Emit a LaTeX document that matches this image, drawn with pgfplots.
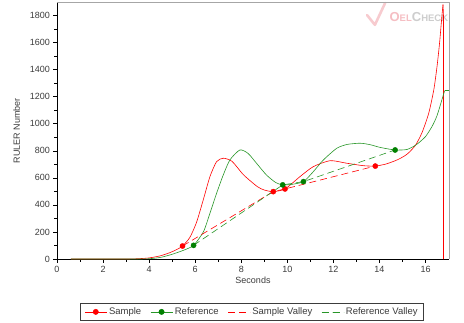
\documentclass[border=0pt]{standalone}
\usepackage{pgfplots}
\pgfplotsset{compat=1.18}
\usepackage{fontspec}
\setmainfont{Liberation Sans}

\definecolor{smpred}{RGB}{255,0,0}
\definecolor{refgreen}{RGB}{0,128,0}
\definecolor{reflinegreen}{RGB}{40,150,40}
\definecolor{txtgray}{RGB}{60,60,60}
\definecolor{wmpink}{RGB}{245,190,195}
\definecolor{wmgray}{RGB}{205,205,205}

\begin{document}
\begin{tikzpicture}
\useasboundingbox (-57pt,-63pt) rectangle (407pt,259pt);
\begin{axis}[
  at={(0pt,0pt)}, anchor=south west,
  scale only axis,
  width=392pt, height=257pt,
  xmin=0, xmax=17.02, ymin=0, ymax=1900,
  axis lines*=left,
  axis line style={-, black, line width=0.5pt},
  xtick={0,2,...,16}, ytick={0,200,...,1800},
  minor x tick num=1, minor y tick num=1,
  tick align=outside,
  major tick length=3.5pt, minor tick length=2.5pt,
  tick style={black, line width=0.5pt},
  /pgf/number format/assume math mode=true,
  /pgf/number format/1000 sep={},
  ticklabel style={font=\fontsize{9}{10}\selectfont, text=txtgray},
  xlabel={Seconds}, ylabel={RULER Number},
  label style={font=\fontsize{9}{10}\selectfont, text=txtgray},
  xlabel style={yshift=2pt},
  ylabel style={yshift=3pt},
  legend columns=4,
  legend style={at={(axis description cs:0.4975,-0.171)}, anchor=north,
    font=\fontsize{9.5}{11}\selectfont, text=txtgray, draw=txtgray,
    line width=0.5pt, inner xsep=4pt, inner ysep=2.5pt,
    /tikz/every even column/.append style={column sep=7pt}},
  legend image code/.code={%
    \draw[mark repeat=2, mark phase=2, #1]
      plot coordinates {(0pt,0pt) (11pt,0pt) (22pt,0pt)};},
  clip=false,
  after end axis/.code={
    \draw[gray!70, line width=0.5pt] (rel axis cs:0,1) -- (rel axis cs:1,1) -- (rel axis cs:1,0);
  },
]

% faint company logo in the upper right corner
\draw[wmpink, line width=2.6pt, line cap=round, line join=round, opacity=0.8]
  (rel axis cs:0.791,0.949) -- (rel axis cs:0.811,0.911) -- (rel axis cs:0.837,0.996);
\node[anchor=base west, inner sep=0pt, font=\bfseries] at (rel axis cs:0.848,0.925)
  {\textcolor{wmpink}{\fontsize{13}{13}\selectfont O\fontsize{9.5}{10}\selectfont EL}%
   \textcolor{wmgray}{\fontsize{13}{13}\selectfont C\fontsize{9.5}{10}\selectfont HECK}};

% legend entries
\addlegendimage{smpred, line width=0.6pt, mark=*, mark size=2.6pt, mark options={fill=smpred}}
\addlegendentry{Sample}
\addlegendimage{reflinegreen, line width=0.6pt, mark=*, mark size=2.6pt, mark options={draw=refgreen, fill=refgreen}}
\addlegendentry{Reference}
\addlegendimage{smpred, line width=0.6pt, dash pattern=on 7pt off 4pt}
\addlegendentry{Sample Valley}
\addlegendimage{reflinegreen, line width=0.6pt, dash pattern=on 7pt off 4pt}
\addlegendentry{Reference Valley}

% sample curve
\addplot[smpred, line width=0.6pt, smooth, tension=0.4, forget plot] coordinates {
 (0.6,0) (1,0) (2,0) (3,0) (3.5,2) (4,8) (4.5,24) (4.9,47) (5.2,70) (5.45,96)
 (5.77,160) (6.06,272) (6.35,437) (6.64,609) (6.93,720) (7.22,745) (7.6,722)
 (8.1,622) (8.7,535) (9.0,510) (9.39,498) (9.9,518) (10.55,609) (11.13,683)
 (11.86,727) (12.58,708) (13.3,690) (13.82,687) (14.3,703) (14.8,735)
 (15.2,775) (15.56,840) (15.85,935) (16.14,1078) (16.36,1251) (16.5,1423)
 (16.61,1596) (16.71,1793) (16.76,1880)
};
\addplot[smpred, line width=0.6pt, forget plot] coordinates {(16.76,1880) (16.78,1800) (16.78,0)};

% reference curve
\addplot[reflinegreen, line width=0.6pt, smooth, tension=0.4, forget plot] coordinates {
 (0.6,0) (2,0) (3.5,0) (4.0,2) (4.5,12) (5.0,35) (5.5,65) (5.93,101)
 (6.36,202) (6.64,338) (6.93,486) (7.22,622) (7.51,733) (7.94,806) (8.3,780)
 (8.7,700) (9.1,620) (9.5,565) (9.8,548) (10.2,552) (10.7,572) (11.13,646)
 (11.57,733) (12.15,819) (12.6,847) (13.16,856) (13.6,845) (14.03,825)
 (14.68,806) (15.2,810) (15.6,845) (16.0,905) (16.3,985) (16.5,1060)
 (16.7,1170) (16.83,1245)
};
\addplot[reflinegreen, line width=0.6pt, forget plot] coordinates {(16.83,1245) (17.02,1245)};

% valley lines
\addplot[smpred, line width=0.6pt, dash pattern=on 7pt off 4pt, forget plot] coordinates {
 (5.45,96) (9.39,498) (9.9,518) (13.82,687)
};
\addplot[reflinegreen, line width=0.6pt, dash pattern=on 7pt off 4pt, forget plot] coordinates {
 (5.93,101) (9.8,548) (10.7,572) (14.68,806)
};

% valley points
\addplot[only marks, mark=*, mark size=2.6pt, draw=smpred, fill=smpred, forget plot] coordinates {
 (5.45,96) (9.39,498) (9.9,518) (13.82,687)
};
\addplot[only marks, mark=*, mark size=2.6pt, draw=refgreen, fill=refgreen, forget plot] coordinates {
 (5.93,101) (9.8,548) (10.7,572) (14.68,806)
};
\end{axis}
\end{tikzpicture}
\end{document}
